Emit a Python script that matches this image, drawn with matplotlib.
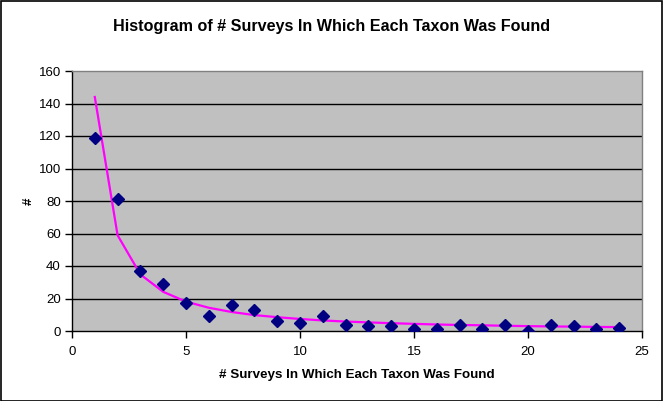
import matplotlib
matplotlib.use("Agg")
import matplotlib.pyplot as plt
from matplotlib.patches import Rectangle

plt.rcParams['font.family'] = ['Liberation Sans', 'DejaVu Sans']

surveys = list(range(1, 25))
counts = [119, 81, 37, 29, 17, 9, 16, 13, 6, 5, 9, 4, 3, 3, 1, 1, 4, 1.5, 4, 0, 4, 3, 1, 2]
trend = [144, 58.9, 34.8, 24.1, 18.1, 14.3, 11.7, 9.8, 8.5, 7.4, 6.5, 5.8,
         5.3, 4.8, 4.4, 4.0, 3.7, 3.5, 3.2, 3.0, 2.8, 2.7, 2.5, 2.4]
x_ticks = [0, 5, 10, 15, 20, 25]
y_ticks = [0, 20, 40, 60, 80, 100, 120, 140, 160]

W, H = 663, 401
fig = plt.figure(figsize=(W / 100, H / 100), dpi=100)
fig.patch.set_facecolor('white')
fig.patches.append(Rectangle((0.5 / W, 0.5 / H), (W - 1.5) / W, (H - 1.5) / H,
                             transform=fig.transFigure, fill=False,
                             edgecolor='black', linewidth=1.2))

left, right, top, bottom = 72, 642, 71, 331
ax = fig.add_axes([left / W, 1 - bottom / H, (right - left) / W, (bottom - top) / H])
ax.set_facecolor('#C0C0C0')
ax.set_xlim(0, 25)
ax.set_ylim(0, 160)
ax.set_xticks(x_ticks)
ax.set_yticks(y_ticks)
for y in y_ticks[1:-1]:
    ax.axhline(y, color='black', linewidth=1.0, zorder=1)

ax.plot(surveys, trend, color='#FF00FF', linewidth=1.6, zorder=2)
ax.plot(surveys, counts, linestyle='none', marker='D', markersize=6.0,
        color='#000080', markeredgecolor='#000080', zorder=3)

for s in ['top', 'right']:
    ax.spines[s].set_color('#808080')
    ax.spines[s].set_linewidth(1.0)
for s in ['left', 'bottom']:
    ax.spines[s].set_color('black')
    ax.spines[s].set_linewidth(1.0)

ax.tick_params(axis='both', direction='out', length=5, width=1, color='black',
               labelsize=9.5, pad=3)
ax.tick_params(axis='x', pad=6)

ax.set_xlabel('# Surveys In Which Each Taxon Was Found', fontsize=9.6,
              fontweight='bold', labelpad=8)
ax.set_ylabel('#', fontsize=9.6, fontweight='bold', labelpad=3, rotation=90)

fig.text(0.5, 1 - 27 / H, 'Histogram of # Surveys In Which Each Taxon Was Found',
         ha='center', va='center', fontsize=11.6, fontweight='bold')

fig.savefig('out.png', dpi=100)
